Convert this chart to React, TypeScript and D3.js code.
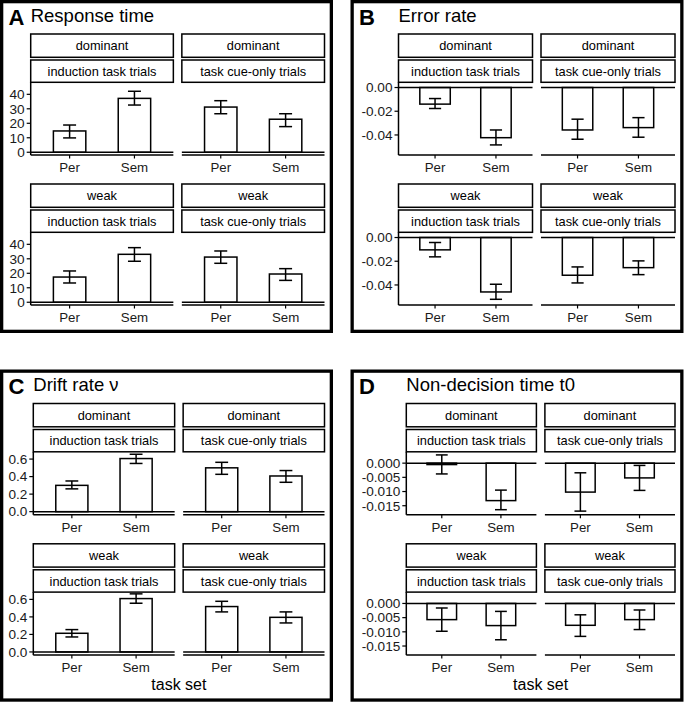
import * as d3 from 'd3';

const strengths = ['dominant', 'weak'];
const trialTypes = ['induction task trials', 'task cue-only trials'];
const taskSets = ['Per', 'Sem'];

// order per metric: dominant/induction Per,Sem · dominant/cue-only Per,Sem · weak/induction Per,Sem · weak/cue-only Per,Sem
const rtMean = [14.7, 37.2, 31.2, 22.8, 17.4, 33.1, 31.2, 19.5];
const rtLow = [9.9, 32.6, 26.6, 17.7, 13.3, 28.3, 26.9, 15.1];
const rtHigh = [18.8, 42.1, 35.6, 26.6, 21.6, 37.7, 35.4, 23.2];
const rtTicks = [0, 10, 20, 30, 40];

const errMean = [-0.014, -0.0423, -0.0358, -0.0338, -0.0104, -0.0459, -0.0318, -0.0254];
const errLow = [-0.0177, -0.0484, -0.0436, -0.0419, -0.0163, -0.0521, -0.0383, -0.0313];
const errHigh = [-0.0093, -0.0358, -0.0267, -0.0254, -0.0042, -0.0394, -0.0248, -0.0197];
const errTicks = [0, -0.02, -0.04];

const driftMean = [0.3, 0.606, 0.5, 0.407, 0.213, 0.609, 0.518, 0.395];
const driftLow = [0.26, 0.55, 0.426, 0.335, 0.171, 0.556, 0.457, 0.331];
const driftHigh = [0.35, 0.655, 0.563, 0.469, 0.255, 0.663, 0.578, 0.457];
const driftTicks = [0, 0.2, 0.4, 0.6];

const t0Mean = [-0.0005, -0.0132, -0.0102, -0.0052, -0.0057, -0.0078, -0.0077, -0.0057];
const t0Low = [-0.0038, -0.0164, -0.0169, -0.0096, -0.0098, -0.0128, -0.0116, -0.0092];
const t0High = [0.0029, -0.0095, -0.0034, -0.0008, -0.0016, -0.0028, -0.004, -0.0023];
const t0Ticks = [0, -0.005, -0.01, -0.015];

const FONT = '"Liberation Sans", Arial, Helvetica, sans-serif';
const LW = 1.5;

const fmt = (digits: number) => (v: number) => {
  const s = Math.abs(v).toFixed(digits);
  return v < 0 ? '-' + s : s;
};

const figures = [
  { letter: 'A', title: 'Response time', mean: rtMean, low: rtLow, high: rtHigh, ticks: rtTicks, domain: [-1.9, 48.3], format: fmt(0),
    bx: 0, by: 0, bw: 333, bh: 333, left: 30.7, panelH: 72.7, xTitle: false },
  { letter: 'B', title: 'Error rate', mean: errMean, low: errLow, high: errHigh, ticks: errTicks, domain: [-0.0569, 0.0044], format: fmt(2),
    bx: 350.5, by: 0, bw: 333, bh: 333, left: 48, panelH: 72.7, xTitle: false },
  { letter: 'C', title: 'Drift rate \u03bd', mean: driftMean, low: driftLow, high: driftHigh, ticks: driftTicks, domain: [-0.036, 0.683], format: fmt(1),
    bx: 0, by: 369.5, bw: 333, bh: 332.2, left: 33.3, panelH: 63, xTitle: true },
  { letter: 'D', title: 'Non-decision time t0', mean: t0Mean, low: t0Low, high: t0High, ticks: t0Ticks, domain: [-0.0182, 0.004], format: fmt(3),
    bx: 350.5, by: 369.5, bw: 333, bh: 332.2, left: 55.8, panelH: 63, xTitle: true },
];

type Fig = (typeof figures)[number];

function Figure({ f }: { f: Fig }) {
  const panelLeft = f.bx + f.left;
  const panelRight = f.bx + f.bw - 8.5;
  const gap = 8.5;
  const pw = (panelRight - panelLeft - gap) / 2;
  const rowPeriod = 48.3 + f.panelH + 29;
  const stroke = 3.3;

  const panels: JSX.Element[] = [];
  strengths.forEach((strength, r) => {
    const stripTop = f.by + 34 + r * rowPeriod;
    const pTop = stripTop + 48.3;
    const pBottom = pTop + f.panelH;
    const y = d3.scaleLinear().domain(f.domain).range([pBottom, pTop]);
    trialTypes.forEach((trial, c) => {
      const x0 = panelLeft + c * (pw + gap);
      const x = d3.scalePoint<string>().domain(taskSets).range([x0, x0 + pw]).padding(0.6);
      const step = x.step();
      const bw = step * 0.5;
      const cap = step * 0.2;
      const key = `${f.letter}-${r}-${c}`;
      panels.push(
        <g key={key}>
          <rect x={x0} y={stripTop} width={pw} height={23.3} fill="white" stroke="black" strokeWidth={LW} />
          <text x={x0 + pw / 2} y={stripTop + 11.6 + 4.6} textAnchor="middle" fontSize={12.8}>{strength}</text>
          <rect x={x0} y={stripTop + 26} width={pw} height={22.3} fill="white" stroke="black" strokeWidth={LW} />
          <text x={x0 + pw / 2} y={stripTop + 26 + 11.1 + 4.6} textAnchor="middle" fontSize={12.8}>{trial}</text>
          {taskSets.map((ts, k) => {
            const i = r * 4 + c * 2 + k;
            const cx = x(ts) as number;
            const v = f.mean[i];
            const yt = Math.min(y(v), y(0));
            const yb = Math.max(y(v), y(0));
            return (
              <g key={ts}>
                <rect x={cx - bw / 2} y={yt} width={bw} height={yb - yt} fill="white" stroke="black" strokeWidth={LW} />
              </g>
            );
          })}
          <line x1={x0} x2={x0 + pw} y1={y(0)} y2={y(0)} stroke="black" strokeWidth={LW} />
          {taskSets.map((ts, k) => {
            const i = r * 4 + c * 2 + k;
            const cx = x(ts) as number;
            const lo = y(f.low[i]);
            const hi = y(f.high[i]);
            return (
              <g key={'e' + ts} stroke="black" strokeWidth={LW}>
                <line x1={cx} x2={cx} y1={lo} y2={hi} />
                <line x1={cx - cap / 2} x2={cx + cap / 2} y1={lo} y2={lo} />
                <line x1={cx - cap / 2} x2={cx + cap / 2} y1={hi} y2={hi} />
              </g>
            );
          })}
          <line x1={x0} x2={x0 + pw} y1={pBottom} y2={pBottom} stroke="black" strokeWidth={LW} />
          {taskSets.map((ts) => {
            const cx = x(ts) as number;
            return (
              <g key={'x' + ts}>
                <line x1={cx} x2={cx} y1={pBottom} y2={pBottom + 3.5} stroke="black" strokeWidth={1.2} />
                <text x={cx} y={pBottom + 16.8} textAnchor="middle" fontSize={13.3} fill="#1a1a1a">{ts}</text>
              </g>
            );
          })}
          {c === 0 && (
            <g>
              <line x1={x0} x2={x0} y1={pTop} y2={pBottom} stroke="black" strokeWidth={LW} />
              {f.ticks.map((t) => (
                <g key={t}>
                  <line x1={x0 - 4} x2={x0} y1={y(t)} y2={y(t)} stroke="black" strokeWidth={1.2} />
                  <text x={x0 - 6} y={y(t) + 4.8} textAnchor="end" fontSize={13.6} fill="#1a1a1a">{f.format(t)}</text>
                </g>
              ))}
            </g>
          )}
        </g>
      );
    });
  });

  const lastBottom = f.by + 34 + rowPeriod + 48.3 + f.panelH;

  return (
    <g>
      <rect x={f.bx + stroke / 2} y={f.by + stroke / 2} width={f.bw - stroke} height={f.bh - stroke} fill="white" stroke="black" strokeWidth={stroke} />
      <text x={f.bx + 8.5} y={f.by + 24.5} fontSize={22} fontWeight="bold">{f.letter}</text>
      <text x={panelLeft} y={f.by + 21.5} fontSize={18.5}>{f.title}</text>
      {panels}
      {f.xTitle && (
        <text x={(panelLeft + panelRight) / 2} y={lastBottom + 35} textAnchor="middle" fontSize={16}>task set</text>
      )}
    </g>
  );
}

export default function App() {
  return (
    <svg width={684} height={702} style={{ position: 'absolute', left: 0, top: 0, display: 'block', background: 'white' }} fontFamily={FONT}>
      {figures.map((f) => (
        <Figure key={f.letter} f={f} />
      ))}
    </svg>
  );
}
